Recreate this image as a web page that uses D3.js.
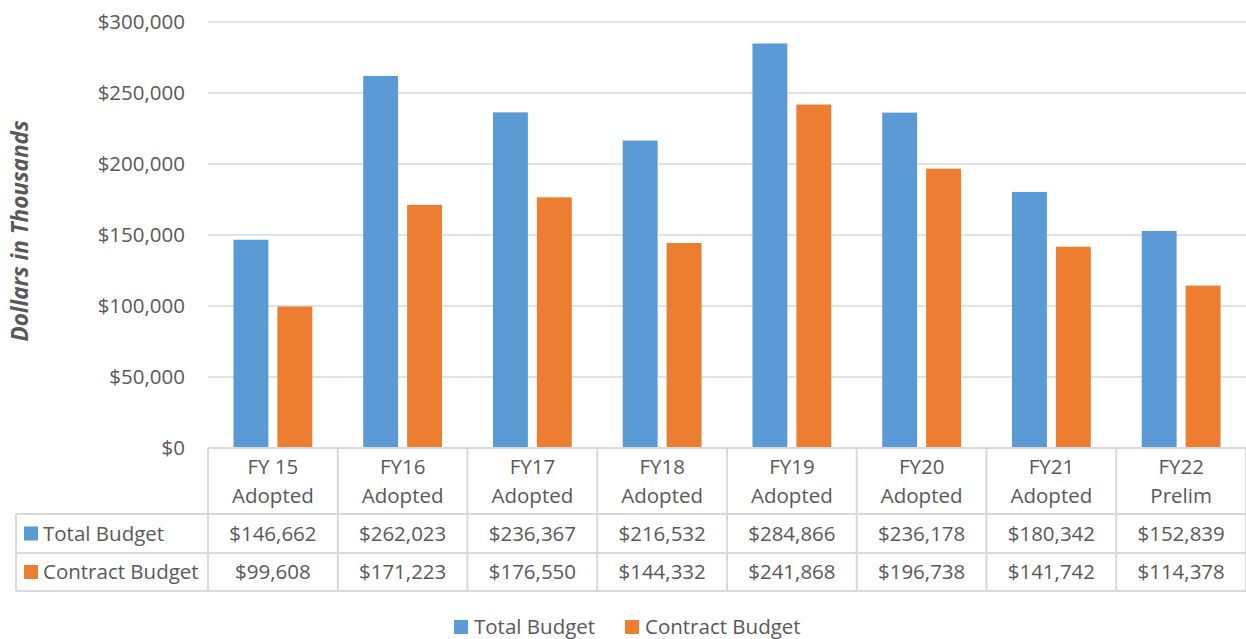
<!DOCTYPE html>
<html lang="en">
<head>
<meta charset="UTF-8">
<title>Total vs Contract Budget</title>
<script src="https://cdn.jsdelivr.net/npm/d3@7"></script>
<style>
body {
    margin: 0;
    background: #fff;
    font-family: 'Open Sans', sans-serif;
}
text {
    fill: #595959;
}
</style>
</head>
<body>
<div id="chart"></div>
<script>
// Data
const categories = [["FY 15", "Adopted"], ["FY16", "Adopted"], ["FY17", "Adopted"], ["FY18", "Adopted"],
                    ["FY19", "Adopted"], ["FY20", "Adopted"], ["FY21", "Adopted"], ["FY22", "Prelim"]];
const seriesNames = ["Total Budget", "Contract Budget"];
const totalBudget = [146662, 262023, 236367, 216532, 284866, 236178, 180342, 152839];
const contractBudget = [99608, 171223, 176550, 144332, 241868, 196738, 141742, 114378];
const yTicks = [0, 50000, 100000, 150000, 200000, 250000, 300000];
const colors = ["#5B9BD5", "#ED7D31"];

const width = 1246, height = 639;
const plot = { left: 208, right: 1246, top: 22, bottom: 448 };
const tableLeft = 16;
const rowEdges = [448, 514, 553, 591];
const gridColor = "#d9d9d9";
const fontSize = 20.5;

const values = [totalBudget, contractBudget];
const catIdx = d3.range(categories.length);

const svg = d3.select("#chart").append("svg")
    .attr("width", width).attr("height", height);

const x = d3.scaleBand().domain(catIdx).range([plot.left, plot.right]);
const xs = d3.scaleBand().domain(seriesNames).range([0, x.bandwidth()])
    .paddingInner(0.205).paddingOuter(0.58);
const y = d3.scaleLinear().domain([0, 300000]).range([plot.bottom, plot.top]);

// gridlines
svg.append("g").selectAll("line")
    .data(yTicks.slice(1))
    .enter().append("line")
    .attr("x1", plot.left).attr("x2", plot.right)
    .attr("y1", d => y(d)).attr("y2", d => y(d))
    .attr("stroke", gridColor).attr("stroke-width", 1.5);

// y axis labels
const fmt = d => "$" + d3.format(",")(d);
svg.append("g").selectAll("text")
    .data(yTicks)
    .enter().append("text")
    .attr("x", 185).attr("y", d => y(d))
    .attr("dy", "0.35em")
    .attr("text-anchor", "end")
    .attr("font-size", fontSize)
    .text(fmt);

// axis title
svg.append("text")
    .attr("transform", "translate(28,231) rotate(-90)")
    .attr("text-anchor", "middle")
    .attr("font-size", 22.5)
    .attr("font-weight", "bold")
    .attr("font-style", "italic")
    .text("Dollars in Thousands");

// bars
seriesNames.forEach((s, si) => {
    svg.append("g").selectAll("rect")
        .data(catIdx)
        .enter().append("rect")
        .attr("x", i => x(i) + xs(s))
        .attr("width", xs.bandwidth())
        .attr("y", i => y(values[si][i]))
        .attr("height", i => y(0) - y(values[si][i]))
        .attr("fill", colors[si]);
});

// data table
const table = svg.append("g")
    .attr("stroke", gridColor).attr("stroke-width", 2);
table.append("line").attr("x1", plot.left).attr("x2", plot.right)
    .attr("y1", rowEdges[0]).attr("y2", rowEdges[0]);
rowEdges.slice(1).forEach(yy => {
    table.append("line").attr("x1", tableLeft).attr("x2", plot.right)
        .attr("y1", yy).attr("y2", yy);
});
catIdx.concat([categories.length]).forEach(i => {
    const xx = i < categories.length ? x(i) : plot.right;
    table.append("line").attr("x1", xx).attr("x2", xx)
        .attr("y1", rowEdges[0]).attr("y2", rowEdges[3]);
});
table.append("line").attr("x1", tableLeft).attr("x2", tableLeft)
    .attr("y1", rowEdges[1]).attr("y2", rowEdges[3]);

// header text
const header = svg.append("g").selectAll("text")
    .data(catIdx)
    .enter().append("text")
    .attr("text-anchor", "middle")
    .attr("font-size", fontSize);
header.append("tspan")
    .attr("x", i => x(i) + x.bandwidth() / 2).attr("y", 474)
    .text(i => categories[i][0]);
header.append("tspan")
    .attr("x", i => x(i) + x.bandwidth() / 2).attr("y", 503)
    .text(i => categories[i][1]);

// value rows
seriesNames.forEach((s, si) => {
    const yMid = (rowEdges[si + 1] + rowEdges[si + 2]) / 2;
    svg.append("rect")
        .attr("x", 24).attr("y", yMid - 7)
        .attr("width", 14).attr("height", 14)
        .attr("fill", colors[si]);
    svg.append("text")
        .attr("x", 43).attr("y", yMid).attr("dy", "0.35em")
        .attr("font-size", fontSize)
        .text(s);
    svg.append("g").selectAll("text")
        .data(catIdx)
        .enter().append("text")
        .attr("x", i => x(i) + x.bandwidth() / 2)
        .attr("y", yMid).attr("dy", "0.35em")
        .attr("text-anchor", "middle")
        .attr("font-size", fontSize)
        .text(i => fmt(values[si][i]));
});

// legend
const legendX = [454, 625];
seriesNames.forEach((s, si) => {
    const g = svg.append("g").attr("transform", `translate(${legendX[si]},627)`);
    g.append("rect").attr("x", 0).attr("y", -7).attr("width", 14).attr("height", 14)
        .attr("fill", colors[si]);
    g.append("text").attr("x", 20).attr("dy", "0.35em")
        .attr("font-size", fontSize).text(s);
});
</script>
</body>
</html>
